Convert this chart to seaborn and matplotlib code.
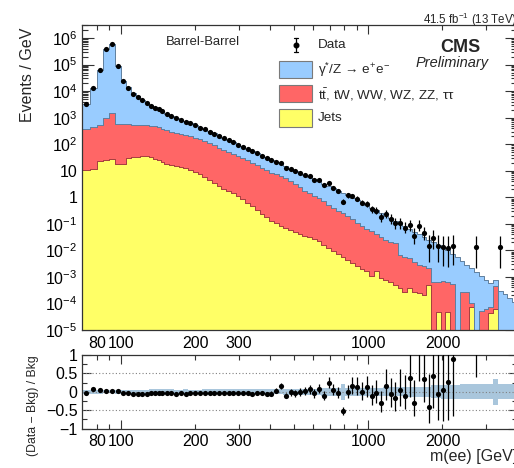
import numpy as np
import pandas as pd
import matplotlib
matplotlib.use("Agg")
import matplotlib.pyplot as plt
import seaborn as sns
from matplotlib.patches import Rectangle
from matplotlib.lines import Line2D
from matplotlib.colors import to_rgba
from matplotlib.ticker import FixedLocator, FuncFormatter, LogLocator, NullFormatter

# ------------------------------------------------------------------ data
mass_edges = [70, 75, 80, 85, 90, 95, 100, 105, 110, 115, 120, 125, 130, 135, 140, 145, 150,
              156.8, 163.9, 171.3, 179.1, 187.2, 195.7, 204.6, 213.9, 223.6, 233.7, 244.3, 255.4,
              267.0, 279.1, 291.8, 305.0, 318.8, 333.3, 348.4, 364.2, 380.8, 398.0, 416.1, 435.0,
              454.7, 475.3, 496.9, 519.4, 543.0, 567.6, 593.4, 620.3, 648.4, 677.8, 708.6, 740.7,
              774.3, 809.5, 846.2, 884.6, 924.7, 966.7, 1010.5, 1056.4, 1104.3, 1154.4, 1206.8,
              1261.6, 1318.8, 1378.6, 1441.2, 1506.6, 1574.9, 1646.4, 1721.1, 1799.2, 1880.8,
              1966.2, 2055.4, 2148.7, 2246.2, 2348.1, 2454.6, 2566.0, 2682.5, 2804.2, 2931.4,
              3064.4, 3203.5, 3348.8, 3500.8, 3659.6, 3825.7, 4000]

# Events / GeV per process
dy_ee = [2860, 12130, 59730, 388100, 574000, 90610, 23970, 13240, 7960, 5773, 4261, 3118, 2383, 1976, 1701, 1440,
         1049, 880, 731, 606, 495, 412, 347, 278, 240, 199, 166, 140, 116, 95.4, 76.5, 63.7, 53.0, 43.1, 36.3,
         30.9, 25.1, 21.1, 17.2, 14.2, 11.2, 9.25, 7.83, 6.84, 5.98, 5.14, 4.34, 3.64, 3.05, 2.60, 2.17, 1.79,
         1.48, 1.194, 0.985, 0.804, 0.664, 0.546, 0.448, 0.353, 0.284, 0.225, 0.180, 0.1406, 0.1102, 0.0955,
         0.0756, 0.0596, 0.0476, 0.0379, 0.0298, 0.0229, 0.0193, 0.0152, 0.0119, 0.00934, 0.00703, 0.00550,
         0.00371, 0.00261, 0.00201, 0.00151, 0.00105, 0.000731, 0.000519, 0.000347, 0.000302, 0.000219,
         0.000158, 0.000115]

top_diboson = [361, 445, 501, 930, 1418, 571, 558, 533, 518, 503, 489, 478, 468, 450, 411, 358,
               312.5, 278.9, 254.4, 232.0, 216.5, 193.2, 168.7, 151.3, 126.1, 105.2, 87.8, 71.4, 59.6, 50.8,
               42.3, 35.2, 29.3, 23.9, 19.5, 15.5, 12.64, 10.30, 8.38, 7.14, 6.08, 5.18, 4.11, 3.11, 2.30,
               1.742, 1.382, 1.122, 0.911, 0.691, 0.512, 0.389, 0.295, 0.245, 0.186, 0.148, 0.1097, 0.0831,
               0.0630, 0.0526, 0.0381, 0.0307, 0.0232, 0.0208, 0.0181, 0.00638, 0.00548, 0.00461, 0.00344,
               0.00257, 0.00243, 0.00174, 0.000661, 0.000582, 0.000708, 0.000612, 0.000562, 0, 0.000275,
               0.000275, 0.000029, 0, 0.00005, 0.000063, 0.000026, 0.000384, 0, 0, 0, 0]

jets_fake = [10.7, 11.7, 24.0, 25.1, 26.9, 18.2, 17.4, 29.5, 31.6, 33.9, 35.5, 34.7, 33.1, 28.2, 25.1, 21.9,
             18.6, 16.2, 14.8, 13.5, 12.6, 11.0, 9.12, 7.24, 5.75, 4.37, 3.39, 2.69, 2.14, 1.74, 1.41, 1.15,
             0.871, 0.631, 0.468, 0.324, 0.240, 0.174, 0.129, 0.105, 0.0851, 0.0708, 0.0603, 0.0513, 0.0427,
             0.0363, 0.0309, 0.0263, 0.0219, 0.0166, 0.0126, 0.00933, 0.00724, 0.00562, 0.00427, 0.00331,
             0.00251, 0.00200, 0.00162, 0.00112, 0.00166, 0.000912, 0.000794, 0.000631, 0.000501, 0.000380,
             0.000275, 0.000398, 0.000282, 0.000251, 0.000200, 0.000501, 0, 0.000049, 0, 0.000049, 0, 0,
             0, 0, 0.0000708, 0, 0, 0, 0.000045, 0.000063, 0, 0, 0, 0]

nan = float("nan")
data_obs = [3170, 13470, 62970, 392900, 581200, 92110, 23810, 13530, 8128, 6026, 4571, 3468, 2826, 2369, 2074, 1765,
            1340, 1140, 944, 834, 684, 604, 514, 424, 364, 300, 249, 207.5, 174.2, 143.5, 116.7, 97.0, 80.7,
            66.2, 53.7, 45.4, 36.9, 29.7, 24.5, 22.2, 20.1, 13.0, 11.8, 9.60, 8.32, 7.13, 6.15, 4.59, 4.34,
            2.94, 3.37, 2.30, 1.74, 0.694, 1.175, 1.107, 0.885, 0.631, 0.574, 0.362, 0.317, 0.182, 0.237,
            0.152, 0.1057, 0.1074, 0.0723, 0.0885, 0.0354, 0.0855, 0.0434, 0.01483, 0.0285, 0.0149, 0.01321,
            0.0128, 0.0143, nan, nan, nan, nan, 0.0132, nan, nan, nan, nan, 0.0132, nan, nan, nan]

# relative error bars on data (up / down)
data_err_up = [0.01] * 16 + [
    0.02, 0.02, 0.02, 0.02, 0.02, 0.02, 0.03, 0.03, 0.03, 0.03,
    0.03, 0.03, 0.04, 0.04, 0.04, 0.04, 0.05, 0.05, 0.05, 0.06,
    0.06, 0.06, 0.07, 0.07, 0.07, 0.08, 0.09, 0.09, 0.10, 0.10,
    0.11, 0.12, 0.12, 0.14, 0.13, 0.15, 0.17, 0.25, 0.19, 0.20,
    0.22, 0.26, 0.27, 0.34, 0.36, 0.45, 0.40, 0.48, 0.56, 0.55,
    0.65, 0.60, 0.90, 0.60, 0.80, 1.50, 1.00, 1.50, 1.70, 1.70, 1.70,
    0, 0, 0, 0, 1.70, 0, 0, 0, 0, 1.70, 0, 0, 0]
data_err_dn = [0.01] * 16 + [
    0.02, 0.02, 0.02, 0.02, 0.02, 0.02, 0.03, 0.03, 0.03, 0.03,
    0.03, 0.03, 0.04, 0.04, 0.04, 0.04, 0.05, 0.05, 0.05, 0.06,
    0.06, 0.06, 0.07, 0.07, 0.07, 0.08, 0.09, 0.09, 0.10, 0.10,
    0.11, 0.12, 0.12, 0.13, 0.12, 0.14, 0.16, 0.22, 0.17, 0.18,
    0.19, 0.22, 0.23, 0.28, 0.29, 0.35, 0.32, 0.37, 0.42, 0.41,
    0.40, 0.38, 0.50, 0.38, 0.45, 0.75, 0.60, 0.75, 0.81, 0.81, 0.81,
    0, 0, 0, 0, 0.84, 0, 0, 0, 0, 0.84, 0, 0, 0]

# background uncertainty band in the ratio panel (half width)
bkg_syst = [0.06, 0.06, 0.05, 0.04, 0.04, 0.05, 0.05, 0.05, 0.06, 0.06, 0.06, 0.06, 0.07, 0.07, 0.07, 0.07,
            0.08, 0.07, 0.06, 0.06, 0.07, 0.06, 0.06, 0.06, 0.07, 0.08, 0.08, 0.07, 0.07, 0.07, 0.08, 0.07,
            0.08, 0.08, 0.07, 0.07, 0.07, 0.07, 0.07,
            0.07, 0.07, 0.08, 0.08, 0.08, 0.09, 0.09, 0.09, 0.09, 0.09, 0.10, 0.10, 0.10, 0.10,
            0.22,
            0.10, 0.10, 0.10, 0.11, 0.11, 0.11, 0.11, 0.11, 0.12, 0.12, 0.12, 0.12, 0.12, 0.13, 0.13, 0.13,
            0.13, 0.14,
            0.18, 0.18, 0.19, 0.19, 0.19, 0.19, 0.20, 0.20, 0.20, 0.20, 0.20, 0.20, 0.20,
            0.36, 0.20, 0.20, 0.20, 0.20]

process_names = ["dy", "top", "jets"]
process_colors = ["#99ccff", "#ff6666", "#ffff66"]
process_edges = ["#5f7f9f", "#a63f3f", "#9c9c40"]

nb = len(mass_edges) - 1
for arr in (dy_ee, top_diboson, jets_fake, data_obs, data_err_up, data_err_dn, bkg_syst):
    assert len(arr) == nb, len(arr)

# ------------------------------------------------------------------ style
sns.set_theme(style="ticks")
plt.rcParams.update({
    "font.family": ["Liberation Sans", "DejaVu Sans"],
    "mathtext.fontset": "custom",
    "mathtext.rm": "Liberation Sans",
    "mathtext.it": "Liberation Sans:italic",
    "mathtext.bf": "Liberation Sans:bold",
    "axes.linewidth": 0.9,
    "axes.edgecolor": "#333333",
    "xtick.color": "#333333",
    "ytick.color": "#333333",
    "xtick.labelcolor": "black",
    "ytick.labelcolor": "black",
})

W, H = 514, 468
fig = plt.figure(figsize=(W / 100, H / 100), dpi=100)


def fx(px):
    return px / W


def fy(py):
    return 1 - py / H


X0, X1 = 82.4, 516.9
ax = fig.add_axes([fx(X0), fy(330), (X1 - X0) / W, (330 - 25) / H])
ax2 = fig.add_axes([fx(X0), fy(428.7), (X1 - X0) / W, (428.7 - 355) / H])

edges = np.array(mass_edges, dtype=float)
centers = np.sqrt(edges[:-1] * edges[1:])

df = pd.concat([pd.DataFrame({"mass": centers, "events": vals, "process": name})
                for name, vals in zip(process_names, [dy_ee, top_diboson, jets_fake])],
               ignore_index=True)
palette = dict(zip(process_names, process_colors))
edgecols = dict(zip(process_names, process_edges))

sns.histplot(data=df, x="mass", weights="events", hue="process", hue_order=process_names,
             bins=[float(v) for v in np.log10(edges)], log_scale=(True, False), multiple="stack",
             element="step", fill=True, palette=palette, alpha=1, linewidth=0.7, edgecolor="k",
             legend=False, ax=ax)
for coll in ax.collections:
    fc = np.asarray(coll.get_facecolor())[0]
    for name, col in palette.items():
        if np.allclose(fc[:3], to_rgba(col)[:3], atol=0.02):
            coll.set_edgecolor(edgecols[name])

ax.set_yscale("log")

data = np.array(data_obs, dtype=float)
up = np.array(data_err_up)
dn = np.array(data_err_dn)
m = ~np.isnan(data)
ax.errorbar(centers[m], data[m], yerr=[data[m] * dn[m], data[m] * up[m]], fmt="none",
            ecolor="black", elinewidth=0.9, capsize=0, zorder=4)
sns.scatterplot(x=centers[m], y=data[m], ax=ax, color="black", s=14, linewidth=0,
                zorder=5, legend=False)

# ratio panel
bkg = np.array(dy_ee) + np.array(top_diboson) + np.array(jets_fake)
ratio = data / bkg - 1
band = np.array(bkg_syst)
ax2.set_xscale("log")
ax2.fill_between(edges, np.append(-band, -band[-1]), np.append(band, band[-1]), step="post",
                 color="#a9c6dc", lw=0, zorder=1)
for yv in (-0.5, 0, 0.5):
    ax2.axhline(yv, color="#808080", ls=(0, (1, 2)), lw=0.8, zorder=2)
ax2.errorbar(centers[m], ratio[m], yerr=[data[m] * dn[m] / bkg[m], data[m] * up[m] / bkg[m]],
             fmt="none", ecolor="black", elinewidth=0.9, capsize=0, zorder=4)
sns.scatterplot(x=centers[m], y=ratio[m], ax=ax2, color="black", s=14, linewidth=0,
                zorder=5, legend=False)

# ------------------------------------------------------------------ axes
def xminor_fmt(v, pos):
    r = int(round(v))
    return str(r) if r in (80, 200, 300, 2000) else ""


def yfmt(v, pos):
    e = int(round(np.log10(v)))
    if e == 0:
        return "1"
    if e == 1:
        return "10"
    return r"$10^{%d}$" % e


for a in (ax, ax2):
    a.set_xlim(70, 4000)
    a.xaxis.set_major_locator(FixedLocator([100, 1000]))
    a.xaxis.set_major_formatter(FuncFormatter(lambda v, p: str(int(round(v)))))
    a.xaxis.set_minor_locator(FixedLocator([80, 90, 200, 300, 400, 500, 600, 700, 800, 900, 2000, 3000]))
    a.xaxis.set_minor_formatter(FuncFormatter(xminor_fmt))
    a.tick_params(axis="x", which="both", direction="in", top=True, bottom=True,
                  labelsize=11.5, pad=4)
    a.tick_params(axis="x", which="major", length=6.5, width=0.8)
    a.tick_params(axis="x", which="minor", length=3.6, width=0.8)
    a.set_xlabel("")
    a.set_ylabel("")

ax.set_ylim(1e-5, 3.1e6)
ax.yaxis.set_major_locator(LogLocator(base=10, numticks=30))
ax.yaxis.set_minor_locator(LogLocator(base=10, subs=np.arange(2, 10), numticks=30))
ax.yaxis.set_minor_formatter(NullFormatter())
ax.yaxis.set_major_formatter(FuncFormatter(yfmt))
ax.tick_params(axis="y", which="both", direction="in", left=True, right=True, labelsize=11.5, pad=3.5)
ax.tick_params(axis="y", which="major", length=8.5, width=0.8)
ax.tick_params(axis="y", which="minor", length=4.3, width=0.8)

ax2.set_ylim(-1, 1)
ax2.yaxis.set_major_locator(FixedLocator([-1, -0.5, 0, 0.5, 1]))
ax2.yaxis.set_major_formatter(FuncFormatter(
    lambda v, p: {-1: "\u22121", -0.5: "\u22120.5", 0: "0", 0.5: "0.5", 1: "1"}.get(round(v, 2), "")))
ax2.yaxis.set_minor_locator(FixedLocator([-0.75, -0.25, 0.25, 0.75]))
ax2.tick_params(axis="y", which="both", direction="in", left=True, right=True, labelsize=11.5, pad=3.5)
ax2.tick_params(axis="y", which="major", length=6.5, width=0.8)
ax2.tick_params(axis="y", which="minor", length=3.6, width=0.8)

# ------------------------------------------------------------------ texts
fig.text(fx(28), fy(28), "Events / GeV", rotation=90, ha="center", va="top", fontsize=11.5)
fig.text(fx(33), fy(355), "(Data \u2212 Bkg) / Bkg", rotation=90, ha="center", va="top", fontsize=8.8)
fig.text(fx(X1), fy(457), "m(ee) [GeV]", ha="right", va="center", fontsize=11.5)
fig.text(fx(X1), fy(20), r"41.5 fb$^{-1}$ (13 TeV)", ha="right", va="center", fontsize=8.3)
fig.text(fx(166), fy(42), "Barrel-Barrel", ha="left", va="center", fontsize=9.4)
fig.text(fx(460), fy(48), "CMS", ha="center", va="center", fontsize=13, fontweight="bold")
fig.text(fx(452), fy(63), "Preliminary", ha="center", va="center", fontsize=10.5, style="italic")

# legend
fig.add_artist(Line2D([fx(296), fx(296)], [fy(38.3), fy(52.3)], color="black", lw=0.9,
                      transform=fig.transFigure))
for yy in (38.3, 52.3):
    fig.add_artist(Line2D([fx(294.3), fx(297.7)], [fy(yy), fy(yy)], color="black", lw=0.9,
                          transform=fig.transFigure))
fig.add_artist(Line2D([fx(296)], [fy(45)], marker="o", ms=3.3, color="black", lw=0,
                      transform=fig.transFigure))
fig.text(fx(318), fy(45), "Data", ha="left", va="center", fontsize=9.7)

leg_labels = [r"γ$^{*}$/Z → e$^{+}$e$^{-}$", r"$\mathrm{t\bar{t}}$, tW, WW, WZ, ZZ, ττ", "Jets"]
leg_rows = [(61, 78.3, 70), (85, 101.7, 94.5), (109.3, 126.7, 118)]
for (ytop, ybot, ytxt), col, lab in zip(leg_rows, process_colors, leg_labels):
    fig.add_artist(Rectangle((fx(279.3), fy(ybot)), fx(311.7) - fx(279.3), fy(ytop) - fy(ybot),
                             transform=fig.transFigure, facecolor=col, edgecolor="#7a7a7a", lw=0.8))
    fig.text(fx(318), fy(ytxt), lab, ha="left", va="center", fontsize=9.7)

fig.savefig("out.png", dpi=100)
